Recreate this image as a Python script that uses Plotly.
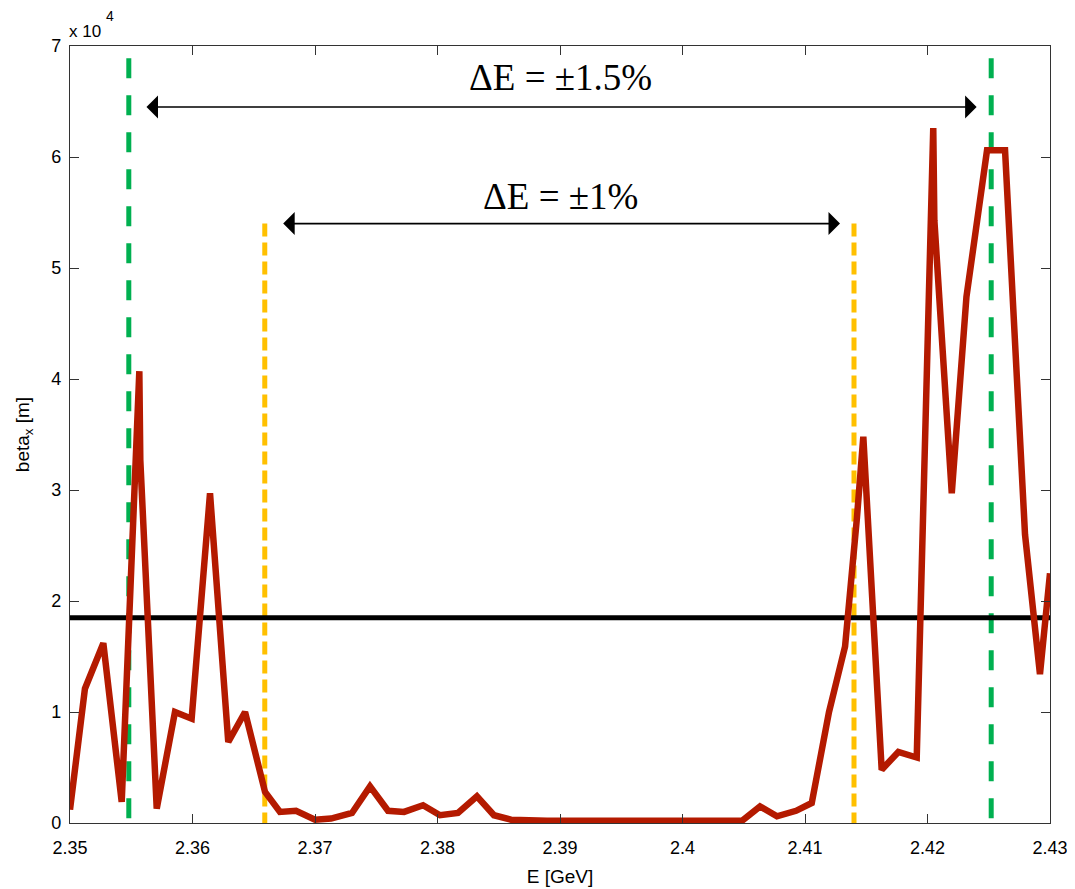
import plotly.graph_objects as go

# ---- data ----
energy_gev = [2.35000, 2.35122, 2.35272, 2.35422, 2.35566, 2.35574, 2.35708, 2.35857,
              2.35993, 2.36143, 2.36292, 2.36429, 2.36592, 2.36714, 2.36845, 2.37000,
              2.37131, 2.37302, 2.37449, 2.37596, 2.37727, 2.37882, 2.38020, 2.38167,
              2.38322, 2.38461, 2.38600, 2.38747, 2.38894, 2.39041, 2.39180, 2.39327,
              2.39473, 2.39620, 2.39767, 2.39906, 2.40053, 2.40200, 2.40347, 2.40486,
              2.40633, 2.40771, 2.40927, 2.41055, 2.41196, 2.41327, 2.41424, 2.41476,
              2.41626, 2.41762, 2.41912, 2.42047, 2.42056, 2.42198, 2.42318, 2.42486,
              2.42633, 2.42796, 2.42918, 2.43000]
beta_x_1e4 = [0.12, 1.21, 1.62, 0.19, 4.07, 3.27, 0.13, 1.00,
              0.94, 2.97, 0.73, 1.00, 0.28, 0.10, 0.11, 0.03,
              0.04, 0.09, 0.33, 0.11, 0.10, 0.16, 0.07, 0.09,
              0.24, 0.07, 0.03, 0.02, 0.02, 0.02, 0.02, 0.02,
              0.02, 0.02, 0.02, 0.02, 0.02, 0.02, 0.02, 0.02,
              0.15, 0.06, 0.11, 0.18, 1.00, 1.59, 2.75, 3.48,
              0.48, 0.64, 0.59, 6.26, 5.43, 2.97, 4.74, 6.06,
              6.06, 2.60, 1.34, 2.25]

threshold_1e4 = 1.85
band_15 = [2.3548, 2.4252]      # dE = +-1.5 %
band_10 = [2.3659, 2.4140]      # dE = +-1 %
band_15_top = 6.89
band_10_top = 5.40
arrow_15 = [2.35612, 2.42401, 6.45]
arrow_10 = [2.36728, 2.41286, 5.40]
label_15 = "ΔE = ±1.5%"
label_10 = "ΔE = ±1%"
x_ticks = [2.35, 2.36, 2.37, 2.38, 2.39, 2.40, 2.41, 2.42, 2.43]
x_tick_text = ["2.35", "2.36", "2.37", "2.38", "2.39", "2.4", "2.41", "2.42", "2.43"]
y_ticks = [0, 1, 2, 3, 4, 5, 6, 7]

RED = "#B41A00"
GREEN = "#00B050"
ORANGE = "#FFC000"

fig = go.Figure()

# vertical dashed band markers
for xv in band_15:
    fig.add_trace(go.Scatter(x=[xv, xv], y=[band_15_top, 0], mode="lines",
                             line=dict(color=GREEN, width=5, dash="20px,17px"),
                             hoverinfo="skip", showlegend=False))
for xv in band_10:
    fig.add_trace(go.Scatter(x=[xv, xv], y=[band_10_top, 0], mode="lines",
                             line=dict(color=ORANGE, width=5, dash="13px,6px"),
                             hoverinfo="skip", showlegend=False))

# threshold line
fig.add_trace(go.Scatter(x=[x_ticks[0], x_ticks[-1]], y=[threshold_1e4, threshold_1e4],
                         mode="lines", line=dict(color="black", width=5),
                         hoverinfo="skip", showlegend=False))

# beta curve
fig.add_trace(go.Scatter(x=energy_gev, y=beta_x_1e4, mode="lines",
                         line=dict(color=RED, width=6.5), showlegend=False))

# double arrows
for a in (arrow_15, arrow_10):
    fig.add_annotation(x=a[1], y=a[2], ax=a[0], ay=a[2], xref="x", yref="y",
                       axref="x", ayref="y", text="", showarrow=True,
                       arrowhead=1, startarrowhead=1, arrowside="end+start",
                       arrowsize=2.4, startarrowsize=2.4, arrowwidth=1.6,
                       arrowcolor="black")

serif = dict(family="Liberation Serif, Times New Roman, serif", size=37, color="black")
fig.add_annotation(x=(band_15[0] + band_15[1]) / 2, y=6.72, text=label_15,
                   showarrow=False, xref="x", yref="y", font=serif)
fig.add_annotation(x=(band_15[0] + band_15[1]) / 2, y=5.64, text=label_10,
                   showarrow=False, xref="x", yref="y", font=serif)

sans = "Liberation Sans, Arial, sans-serif"
# exponent label
fig.add_annotation(x=0, y=1, xref="paper", yref="paper", xanchor="left", yanchor="bottom",
                   text="x 10", showarrow=False, yshift=3, xshift=-3,
                   font=dict(family=sans, size=17, color="black"))
fig.add_annotation(x=0, y=1, xref="paper", yref="paper", xanchor="left", yanchor="bottom",
                   text="4", showarrow=False, yshift=20, xshift=34,
                   font=dict(family=sans, size=14, color="black"))

axis_font = dict(family=sans, size=18, color="black")
title_font = dict(family=sans, size=19, color="black")

fig.update_layout(
    width=1075, height=889,
    margin=dict(l=62, r=33, t=38, b=74),
    plot_bgcolor="white", paper_bgcolor="white",
    font=axis_font,
    xaxis=dict(range=[2.35, 2.43], tickvals=x_ticks, ticktext=x_tick_text,
               ticks="inside", ticklen=9, tickcolor="#333", showline=True,
               linecolor="#333", linewidth=1.2, mirror="ticks", showgrid=False,
               zeroline=False, tickfont=axis_font, ticklabelstandoff=8,
               automargin=False,
               title=dict(text="E [GeV]", font=title_font, standoff=12)),
    yaxis=dict(range=[0, 7], tickvals=y_ticks, ticks="inside", ticklen=9,
               tickcolor="#333", showline=True, linecolor="#333", linewidth=1.2,
               mirror="ticks", showgrid=False, zeroline=False, tickfont=axis_font,
               ticklabelstandoff=4, automargin=False,
               title=dict(text="beta<sub>x</sub> [m]", font=title_font, standoff=16)),
)

fig.write_html("out.html")
